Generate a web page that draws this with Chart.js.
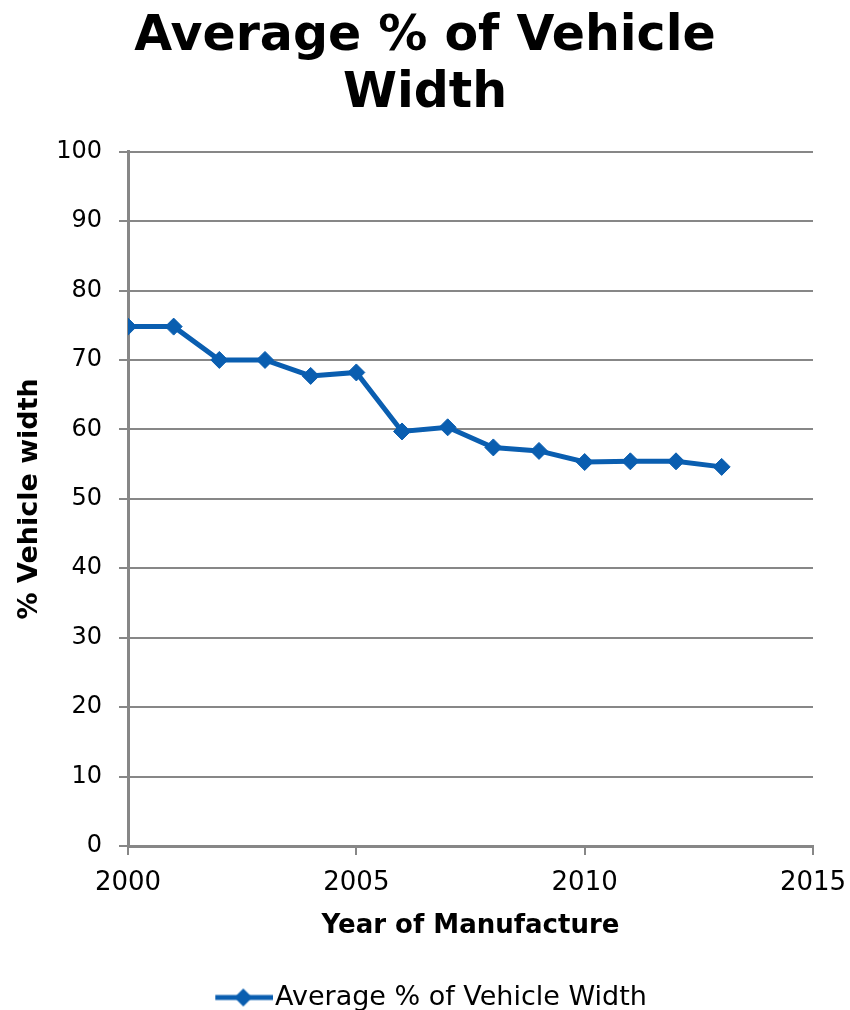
<!DOCTYPE html>
<html>
<head>
<meta charset="utf-8">
<script src="https://cdn.jsdelivr.net/npm/chart.js@4.4.1/dist/chart.umd.min.js"></script>
<style>
  html, body { margin: 0; padding: 0; background: #ffffff; }
  #wrap { width: 850px; height: 1010px; }
</style>
</head>
<body>
<div id="wrap"><canvas id="chart" width="850" height="1010"></canvas></div>
<script>
// Average share of vehicle width, by model year
const years = [2000, 2001, 2002, 2003, 2004, 2005, 2006, 2007, 2008, 2009, 2010, 2011, 2012, 2013];
const widthPct = [74.8, 74.8, 70.0, 70.0, 67.7, 68.2, 59.7, 60.3, 57.4, 56.9, 55.3, 55.4, 55.4, 54.6];
const xTickValues = [2000, 2005, 2010, 2015];
const yTickValues = [0, 10, 20, 30, 40, 50, 60, 70, 80, 90, 100];

const seriesName = 'Average % of Vehicle Width';
const titleLines = ['Average % of Vehicle', 'Width'];
const xTitle = 'Year of Manufacture';
const yTitle = '% Vehicle width';

const BLUE = '#0A5EB0';
const GRID = '#878787';
const FONT = "'DejaVu Sans', Verdana, sans-serif";

// legend symbol: a short line with a diamond in the middle,
// drawn in the right part of the image so it sits close to the text
function legendSymbol() {
  const c = document.createElement('canvas');
  c.width = 82; c.height = 22;
  const g = c.getContext('2d');
  g.strokeStyle = BLUE; g.lineWidth = 5;
  g.beginPath(); g.moveTo(24, 11); g.lineTo(82, 11); g.stroke();
  g.fillStyle = BLUE;
  g.beginPath(); g.moveTo(52 - 9, 11); g.lineTo(52, 2); g.lineTo(52 + 9, 11); g.lineTo(52, 20); g.closePath(); g.fill();
  return c;
}
const symbol = legendSymbol();

const points = years.map((y, i) => ({ x: y, y: widthPct[i] }));

new Chart(document.getElementById('chart'), {
  type: 'line',
  data: {
    datasets: [{
      label: seriesName,
      data: points,
      borderColor: BLUE,
      backgroundColor: BLUE,
      borderWidth: 5,
      pointStyle: 'rectRot',
      pointRadius: 8.5,
      pointBorderWidth: 1,
      pointBackgroundColor: BLUE,
      pointBorderColor: BLUE,
      tension: 0
    }]
  },
  options: {
    responsive: false,
    animation: false,
    devicePixelRatio: 1,
    layout: { padding: { top: 0, left: 0, right: 0, bottom: -11 } },
    plugins: {
      title: {
        display: true,
        text: titleLines,
        color: '#000',
        font: { family: FONT, size: 49, weight: 'bold', lineHeight: 1.18 },
        padding: { top: 8, bottom: 28 }
      },
      legend: {
        position: 'bottom',
        labels: {
          color: '#000',
          font: { family: FONT, size: 27 },
          usePointStyle: true,
          pointStyleWidth: 58.5,
          boxHeight: 22,
          padding: 1,
          generateLabels: (chart) => chart.data.datasets.map((ds, i) => ({
            text: ds.label,
            datasetIndex: i,
            pointStyle: symbol,
            fillStyle: BLUE,
            strokeStyle: BLUE,
            lineWidth: 0,
            fontColor: '#000'
          }))
        }
      },
      tooltip: { enabled: false }
    },
    scales: {
      x: {
        type: 'linear',
        min: 2000,
        max: 2015,
        afterBuildTicks: (s) => { s.ticks = xTickValues.map(v => ({ value: v })); },
        afterFit: (s) => { s.height = 137; s.paddingLeft = 0; s.paddingRight = 0; },
        ticks: {
          color: '#000',
          font: { family: FONT, size: 26 },
          padding: 13,
          maxRotation: 0,
          callback: (v) => String(v)
        },
        grid: { drawOnChartArea: false, color: GRID, lineWidth: 2, tickLength: 9 },
        border: { color: GRID, width: 3 },
        title: {
          display: true,
          text: xTitle,
          color: '#000',
          font: { family: FONT, size: 26, weight: 'bold' },
          padding: { top: 4, bottom: 41 }
        }
      },
      y: {
        min: 0,
        max: 100,
        afterBuildTicks: (s) => { s.ticks = yTickValues.map(v => ({ value: v })); },
        afterFit: (s) => { s.width = 128; },
        ticks: {
          color: '#000',
          font: { family: FONT, size: 24 },
          padding: 17
        },
        grid: { color: GRID, lineWidth: 2, tickLength: 9 },
        border: { color: GRID, width: 3 },
        title: {
          display: true,
          text: yTitle,
          color: '#000',
          font: { family: FONT, size: 27, weight: 'bold' },
          padding: { top: 14, bottom: 0 }
        }
      },
      // empty right-hand margin so the plot ends where the 2015 tick sits
      spacer: {
        type: 'linear',
        position: 'right',
        display: true,
        ticks: { display: false },
        grid: { display: false },
        border: { display: false },
        afterFit: (s) => { s.width = 37; }
      }
    }
  }
});
</script>
</body>
</html>
